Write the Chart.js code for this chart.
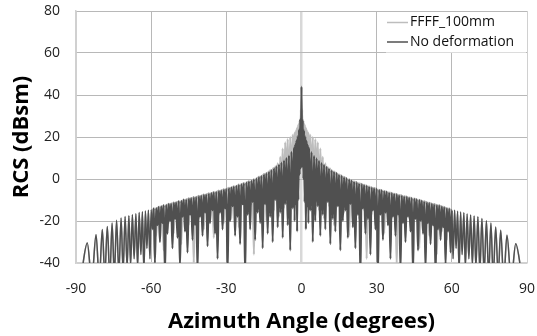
<!DOCTYPE html>
<html>
<head>
<meta charset="utf-8">
<script src="https://cdn.jsdelivr.net/npm/chart.js@4.4.1/dist/chart.umd.min.js"></script>
<style>
  html, body { margin: 0; padding: 0; background: #fff; }
  #wrap { width: 537px; height: 336px; }
</style>
</head>
<body>
<div id="wrap"><canvas id="rcsChart"></canvas></div>
<script>
const seriesNames = ['FFFF_100mm', 'No deformation'];
const xTicks = [-90, -60, -30, 0, 30, 60, 90];
const yTicks = [-40, -20, 0, 20, 40, 60, 80];

// azimuth samples (deg)
const angles = [
  -90, -87.8, -85.5, -83.7, -82, -80.7, -79.5, -78.5, -77.5, -76.5, -75.6, -74.7, -73.8, -72.9, -72, -71.2,
  -70.4, -69.6, -68.9, -68.2, -67.5, -66.8, -66.1, -65.4, -64.8, -64.1, -63.5, -62.9, -62.3, -61.7, -61.1, -60.5,
  -60, -59.5, -59, -58.5, -58, -57.5, -57, -56.5, -56, -55.5, -55, -54.5, -54, -53.5, -53, -52.5,
  -52, -51.5, -51, -50.5, -50, -49.5, -49, -48.5, -48, -47.5, -47, -46.5, -46, -45.5, -45, -44.5,
  -44, -43.5, -43, -42.5, -42, -41.5, -41, -40.5, -40, -39.5, -39, -38.5, -38, -37.5, -37, -36.5,
  -36, -35.5, -35, -34.5, -34, -33.5, -33, -32.5, -32, -31.5, -31, -30.5, -30, -29.5, -29, -28.5,
  -28, -27.5, -27, -26.5, -26, -25.5, -25, -24.5, -24, -23.5, -23, -22.5, -22, -21.5, -21, -20.5,
  -20, -19.5, -19, -18.5, -18, -17.5, -17, -16.5, -16, -15.5, -15, -14.5, -14, -13.5, -13, -12.5,
  -12, -11.5, -11, -10.5, -10, -9.5, -9, -8.5, -8, -7.5, -7, -6.5, -6, -5.5, -5, -4.5, -4, -3.5,
  -3, -2.75, -2.5, -2.25, -2, -1.75, -1.5, -1.25, -1, -0.75, -0.5, -0.25, 0,
  0.25, 0.5, 0.75, 1, 1.25, 1.5, 1.75, 2, 2.25, 2.5, 2.75, 3,
  3.5, 4, 4.5, 5, 5.5, 6, 6.5, 7, 7.5, 8, 8.5, 9, 9.5, 10, 10.5, 11, 11.5, 12,
  12.5, 13, 13.5, 14, 14.5, 15, 15.5, 16, 16.5, 17, 17.5, 18, 18.5, 19, 19.5, 20,
  20.5, 21, 21.5, 22, 22.5, 23, 23.5, 24, 24.5, 25, 25.5, 26, 26.5, 27, 27.5, 28,
  28.5, 29, 29.5, 30, 30.5, 31, 31.5, 32, 32.5, 33, 33.5, 34, 34.5, 35, 35.5, 36,
  36.5, 37, 37.5, 38, 38.5, 39, 39.5, 40, 40.5, 41, 41.5, 42, 42.5, 43, 43.5, 44,
  44.5, 45, 45.5, 46, 46.5, 47, 47.5, 48, 48.5, 49, 49.5, 50, 50.5, 51, 51.5, 52,
  52.5, 53, 53.5, 54, 54.5, 55, 55.5, 56, 56.5, 57, 57.5, 58, 58.5, 59, 59.5, 60,
  60.5, 61.1, 61.7, 62.3, 62.9, 63.5, 64.1, 64.8, 65.4, 66.1, 66.8, 67.5, 68.2, 68.9, 69.6, 70.4,
  71.2, 72, 72.9, 73.8, 74.7, 75.6, 76.5, 77.5, 78.5, 79.5, 80.7, 82, 83.7, 85.5, 87.8, 90
];

// RCS (dBsm), FFFF_100mm
const ffff100 = [
  -60, -45, -30.5, -48, -26.5, -48, -24.1, -46, -22.6, -47, -21, -46, -19.7, -45, -18.6, -44,
  -17.8, -42, -17.5, -41, -17, -38, -16.6, -42, -16, -36, -15.6, -44, -15.2, -33, -14.9, -38,
  -22, -14.5, -19, -14.0, -27, -13.6, -18, -13.2, -20, -12.8, -34, -12.5, -18, -12.1, -21, -11.8,
  -19, -11.5, -26, -11.2, -17, -10.9, -19, -10.5, -31, -10.2, -16, -9.9, -18, -9.5, -22, -9.2,
  -15, -8.9, -40, -8.6, -16, -8.3, -19, -8.0, -14, -7.7, -24, -7.4, -15, -7.1, -18, -6.8,
  -13, -6.5, -28, -6.2, -14, -5.8, -17, -5.5, -12, -5.2, -21, -4.9, -13, -4.5, -11, -4.1,
  -19, -3.7, -12, -3.4, -10, -3.0, -23, -2.6, -11, -2.2, -9, -1.8, -16, -1.4, -8, -1.0,
  -12, -0.5, -36, 0.1, -9, 0.7, -7, 1.3, -14, 1.9, -6, 2.6, -20, 3.2, -6, 4.3,
  -10, 5.0, -15, 6.0, -4, 7.5, -18, 10.5, -8, 14.5, -14, 17.5, -4, 19.0, -12, 20.0, -6, 21.0,
  4, 22, 6, 23, 8, 24.5, 10, 26, 12, 28, 14, 33, 15,
  33, 14, 28, 12, 26, 10, 24.5, 8, 23, 6, 22, 4,
  21, -5, 20, -13, 19, -4, 17.5, -15, 14.5, -7, 10.5, -19, 7.5, -9, 5.8, -13, 4.9, -6,
  4.0, -22, 3.2, -8, 2.5, -12, 1.9, -7, 1.3, -16, 0.7, -9, 0.1, -27, -0.5, -10,
  -1.0, -13, -1.4, -11, -1.8, -19, -2.2, -12, -2.6, -15, -3.0, -38, -3.4, -13, -3.8, -17,
  -4.1, -14, -4.5, -22, -4.9, -15, -5.2, -13, -5.5, -26, -5.9, -16, -6.2, -14, -6.5, -19,
  -6.8, -17, -7.1, -41, -7.4, -18, -7.7, -16, -8.0, -21, -8.3, -17, -8.6, -19, -8.9, -24,
  -9.2, -18, -9.5, -20, -9.8, -33, -10.1, -19, -10.5, -22, -10.8, -20, -11.2, -27, -11.5, -21,
  -11.8, -23, -12.1, -36, -12.4, -22, -12.8, -25, -13.2, -23, -13.6, -29, -14.0, -24, -14.4, -26,
  -38, -14.9, -33, -15.3, -44, -15.7, -36, -16.1, -42, -16.7, -38, -17.1, -41, -17.6, -42, -18.0,
  -44, -18.8, -45, -19.9, -46, -21.0, -47, -22.8, -46, -24.4, -48, -26.8, -48, -30.8, -45, -60
];

// RCS (dBsm), No deformation
const noDeform = [
  -60, -45, -30.5, -48, -26.5, -48, -24.1, -46, -22.6, -47, -21, -46, -19.7, -45, -18.6, -44,
  -17.8, -42, -17.5, -41, -17, -38, -16.6, -42, -16, -36, -15.6, -44, -15.2, -33, -14.9, -38,
  -14.6, -24, -14.0, -40, -13.8, -22, -13.2, -30, -13.0, -21, -12.4, -45, -12.3, -26, -11.8, -20,
  -11.7, -33, -11.2, -19, -11.1, -28, -10.5, -42, -10.4, -18, -9.8, -25, -9.7, -35, -9.2, -17,
  -9.1, -29, -8.6, -22, -8.5, -44, -8.0, -18, -7.9, -27, -7.4, -16, -7.3, -32, -6.8, -21,
  -6.7, -15, -6.2, -26, -6.1, -38, -5.5, -16, -5.4, -24, -4.9, -14, -4.7, -45, -4.2, -20,
  -3.9, -13, -3.5, -27, -3.2, -18, -2.7, -31, -2.4, -12, -1.9, -46, -1.6, -17, -1.1, -24,
  -0.8, -11, -0.2, -29, 0.3, -16, 1.0, -21, 1.5, -33, 2.3, -12, 2.8, -26, 3.5, -18,
  4.3, -30, 5.2, -10, 6.0, -23, 6.9, -16, 7.8, -28, 8.8, -12, 10.0, -22, 11.2, -34, 13.0, -14,
  15.0, -20, 16.6, -12, 18.5, -25, 20.5, -10, 23.5, 2, 28.5, 5, 44,
  6, 28, 0, 23.2, -11, 20.3, -24, 18.3, -13, 16.4, -21, 14.8,
  -15, 12.8, -30, 11.0, -20, 9.8, -13, 8.7, -27, 7.6, -17, 6.8, -24, 5.8, -11, 5.0, -31, 4.2,
  -19, 3.5, -25, 2.9, -13, 2.1, -34, 1.6, -20, 0.9, -15, 0.4, -28, -0.2, -12, -0.7,
  -23, -1.2, -33, -1.5, -17, -2.0, -47, -2.3, -14, -2.8, -26, -3.1, -19, -3.6, -36, -3.9,
  -15, -4.3, -24, -4.6, -46, -5.1, -17, -5.3, -29, -5.7, -16, -6.0, -22, -6.4, -38, -6.6,
  -18, -7.0, -27, -7.2, -17, -7.6, -44, -7.8, -21, -8.2, -30, -8.4, -18, -8.8, -25, -9.0,
  -45, -9.3, -19, -9.6, -34, -9.9, -20, -10.3, -26, -10.6, -43, -11.0, -21, -11.3, -31, -11.7,
  -22, -11.9, -46, -12.3, -24, -12.5, -29, -13.0, -23, -13.3, -41, -13.8, -25, -14.1, -35, -14.7,
  -38, -14.9, -33, -15.3, -44, -15.7, -36, -16.1, -42, -16.7, -38, -17.1, -41, -17.6, -42, -18.0,
  -44, -18.8, -45, -19.9, -46, -21.0, -47, -22.8, -46, -24.4, -48, -26.8, -48, -30.8, -45, -60
];

if (angles.length !== ffff100.length || angles.length !== noDeform.length) {
  console.error('length mismatch', angles.length, ffff100.length, noDeform.length);
}

const colors = ['#bdbdbd', '#505050'];
const tickFont = { family: 'Open Sans', size: 14 };
const titleFont = { family: 'Open Sans', size: 22, weight: 'bold' };

// thicker strokes where the lobes are packed tightly, thin ones for the wide edge lobes
const lobeWidth = (wide, thin) => c => Math.abs(c.p0.parsed.x) < 60 ? wide : thin;

// legend box in the top right corner of the plot
const boxLegend = {
  id: 'boxLegend',
  afterDatasetsDraw(chart) {
    const ctx = chart.ctx;
    const area = chart.chartArea;
    ctx.save();
    ctx.fillStyle = '#fff';
    ctx.fillRect(area.right - 141, area.top + 1, 140, 40.5);
    ctx.font = '14px "Open Sans"';
    ctx.textBaseline = 'middle';
    seriesNames.forEach((name, i) => {
      const y = area.top + 11.5 + i * 19.5;
      ctx.strokeStyle = colors[i];
      ctx.lineWidth = 1.5;
      ctx.beginPath();
      ctx.moveTo(area.right - 140, y);
      ctx.lineTo(area.right - 119, y);
      ctx.stroke();
      ctx.fillStyle = '#111';
      ctx.fillText(name, area.right - 117, y);
    });
    ctx.restore();
  }
};

new Chart(document.getElementById('rcsChart'), {
  type: 'line',
  data: {
    datasets: [
      {
        label: seriesNames[0],
        data: angles.map((a, i) => ({ x: a, y: ffff100[i] })),
        borderColor: colors[0],
        borderWidth: 1.5,
        segment: { borderWidth: lobeWidth(2.2, 1.5) },
        pointRadius: 0,
        cubicInterpolationMode: 'monotone',
        order: 1
      },
      {
        label: seriesNames[1],
        data: angles.map((a, i) => ({ x: a, y: noDeform[i] })),
        borderColor: colors[1],
        borderWidth: 1.5,
        segment: { borderWidth: lobeWidth(2.1, 1.5) },
        pointRadius: 0,
        cubicInterpolationMode: 'monotone',
        order: 0
      }
    ]
  },
  options: {
    animation: false,
    responsive: true,
    maintainAspectRatio: false,
    layout: { padding: { top: 11, right: 10, left: 0, bottom: 0 } },
    plugins: { legend: { display: false }, tooltip: { enabled: false } },
    scales: {
      x: {
        type: 'linear',
        min: -90,
        max: 90,
        afterBuildTicks: s => { s.ticks = xTicks.map(v => ({ value: v })); },
        afterFit: s => { s.height = 73; s.paddingLeft = 0; s.paddingRight = 0; },
        grid: {
          drawTicks: false,
          color: c => c.tick.value === 0 ? '#d8d8d8' : (Math.abs(c.tick.value) === 90 ? '#d0d0d0' : '#b8b8b8'),
          lineWidth: c => c.tick.value === 0 ? 2.5 : 1
        },
        border: { color: '#d0d0d0', width: 1.5 },
        ticks: { font: tickFont, color: '#222', padding: 18, maxRotation: 0 },
        title: { display: true, text: 'Azimuth Angle (degrees)', font: titleFont, color: '#000', padding: { top: 0, bottom: 1 } }
      },
      y: {
        min: -40,
        max: 80,
        afterBuildTicks: s => { s.ticks = yTicks.map(v => ({ value: v })); },
        afterFit: s => { s.width = 76; s.paddingTop = 0; s.paddingBottom = 0; },
        grid: {
          drawTicks: false,
          color: c => c.tick.value === -40 ? '#d0d0d0' : '#b8b8b8'
        },
        border: { color: '#d0d0d0', width: 1.5 },
        ticks: { font: tickFont, color: '#222', padding: 16 },
        title: { display: true, text: 'RCS (dBsm)', font: titleFont, color: '#000', padding: { top: 9, bottom: 0 } }
      }
    }
  },
  plugins: [boxLegend]
});
</script>
</body>
</html>
